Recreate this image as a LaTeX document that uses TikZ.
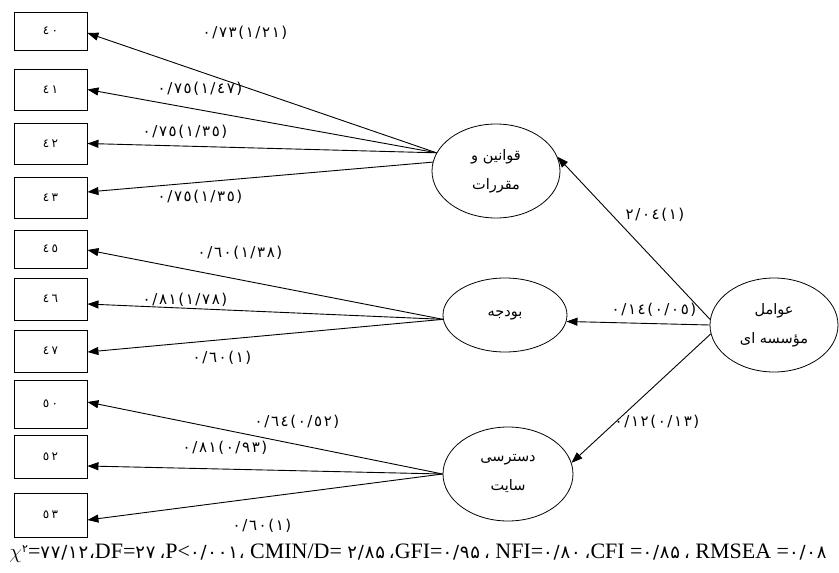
\documentclass[tikz,border=0pt]{standalone}
\usepackage{fontspec}
\setmainfont{Liberation Serif}
\newfontfamily\arabicfont[Script=Arabic]{DejaVu Sans}
\newfontfamily\digitfont{DejaVu Sans}
\TeXXeTstate=1
\usetikzlibrary{arrows.meta,shapes.geometric}
\ExplSyntaxOn
\dim_new:N \l_vis_kern_dim
\bool_new:N \l_vis_first_bool
\NewDocumentCommand\vis{O{0pt}m}{
  \dim_set:Nn \l_vis_kern_dim {#1}
  \bool_set_true:N \l_vis_first_bool
  \tl_map_inline:nn {#2} {
    \bool_if:NTF \l_vis_first_bool {\bool_set_false:N \l_vis_first_bool} {\kern\l_vis_kern_dim}
    \hbox{##1}
  }
}
\ExplSyntaxOff
\newcommand\lb[1]{\vis[1.6pt]{#1}}
\newcommand\bx[1]{\vis[2.5pt]{#1}}
\newcommand\dg[1]{{\digitfont\fontsize{18}{20}\selectfont\vis[0.8pt]{#1}}}
\begin{document}
\begin{tikzpicture}[x=1pt,y=-1pt,
  box/.style={draw,line width=0.9pt,minimum width=73pt,inner sep=0pt,font=\digitfont\fontsize{12}{14}\selectfont},
  lat/.style={draw,ellipse,line width=0.8pt,inner sep=0pt,align=center,font=\arabicfont\fontsize{14.5}{29}\selectfont},
  arr/.style={-{Triangle[length=11pt,width=8pt]},line width=0.9pt},
  lbl/.style={inner sep=0pt,font=\digitfont\fontsize{15}{17}\selectfont}]
\useasboundingbox (0,0) rectangle (839,573);
% indicator boxes
\node[box,minimum height=38pt] (b40) at (50.5,31) {\bx{٤٠}};
\node[box,minimum height=41pt] (b41) at (50.5,89.5) {\bx{٤١}};
\node[box,minimum height=41pt] (b42) at (50.5,143.5) {\bx{٤٢}};
\node[box,minimum height=41pt] (b43) at (50.5,197.5) {\bx{٤٣}};
\node[box,minimum height=38pt] (b45) at (50.5,249) {\bx{٤٥}};
\node[box,minimum height=42pt] (b46) at (50.5,299) {\bx{٤٦}};
\node[box,minimum height=42pt] (b47) at (50.5,351) {\bx{٤٧}};
\node[box,minimum height=48pt] (b50) at (50.5,404) {\bx{٥٠}};
\node[box,minimum height=43pt] (b52) at (50.5,456.5) {\bx{٥٢}};
\node[box,minimum height=44pt] (b53) at (50.5,515) {\bx{٥٣}};
% latent variables
\node[lat,minimum width=128pt,minimum height=94pt] (q) at (496,171) {\beginR قوانین و\endR\\\beginR مقررات\endR};
\node[lat,minimum width=124pt,minimum height=74pt] (b) at (505,315) {\beginR بودجه\endR};
\node[lat,minimum width=130pt,minimum height=94pt] (s) at (508,474) {\beginR دسترسی\endR\\\beginR سایت\endR};
\node[lat,minimum width=128pt,minimum height=94pt] (e) at (774,325) {\beginR عوامل\endR\\\beginR مؤسسه ای\endR};
% connectors
\draw[arr] (q.163) -- ([yshift=-2pt]b40.east);
\draw[arr] (q.163) -- (b41.east);
\draw[arr] (q.163) -- (b42.east);
\draw[arr] (q.172) -- ([yshift=5.5pt]b43.east);
\draw[arr] (b.184) -- ([yshift=-1pt]b45.east);
\draw[arr] (b.184) -- ([yshift=-5pt]b46.east);
\draw[arr] (b.184) -- ([yshift=-1pt]b47.east);
\draw[arr] (s.west) -- ([yshift=2pt]b50.east);
\draw[arr] (s.west) -- ([yshift=-9.5pt]b52.east);
\draw[arr] (s.west) -- ([yshift=-5pt]b53.east);
\draw[arr] (e.175) -- (q.13);
\draw[arr] (e.west) -- (b.-6);
\draw[arr] (e.188) -- (s.10);
% labels
\node[lbl] (l40) at (245,33) {\lb{٠/٧٣(١/٢١)}};
\node[lbl] (l41) at (200,89) {\lb{٠/٧٥(١/٤٧)}};
\node[lbl] (l42) at (185,132) {\lb{٠/٧٥(١/٣٥)}};
\node[lbl] (l43) at (200,197) {\lb{٠/٧٥(١/٣٥)}};
\node[lbl] (l45) at (240,253) {\lb{٠/٦٠(١/٣٨)}};
\node[lbl] (l46) at (185,300) {\lb{٠/٨١(١/٧٨)}};
\node[lbl] (l47) at (222,358) {\lb{٠/٦٠(١)}};
\node[lbl] (l50) at (297,422) {\lb{٠/٦٤(٠/٥٢)}};
\node[lbl] (l52) at (225,448) {\lb{٠/٨١(٠/٩٣)}};
\node[lbl] (l53) at (262,526) {\lb{٠/٦٠(١)}};
\node[lbl] (lq) at (655,215) {\lb{٢/٠٤(١)}};
\node[lbl] (lb) at (654,310) {\lb{٠/١٤(٠/٠٥)}};
\node[lbl] (ls) at (657,422) {\lb{٠/١٢(٠/١٣)}};
% fit indices
\node[inner sep=0pt,font=\fontsize{22}{24}\selectfont] (fit) at (418,553)
 {$\chi$\raisebox{6pt}{\digitfont\fontsize{11}{12}\selectfont ٢}=\dg{٧٧/١٢،}DF=\dg{٢٧}\kern4pt\dg{،}P<\dg{٠/٠٠١،} CMIN/D= \dg{٢/٨۵}\kern4pt\dg{،}GFI=\dg{٠/٩۵}\kern4pt\dg{،} NFI=\dg{٠/٨٠}\kern4pt\dg{،}CFI =\dg{٠/٨۵}\kern4pt\dg{،} RMSEA =\dg{٠/٠٨}};
\end{tikzpicture}
\end{document}
